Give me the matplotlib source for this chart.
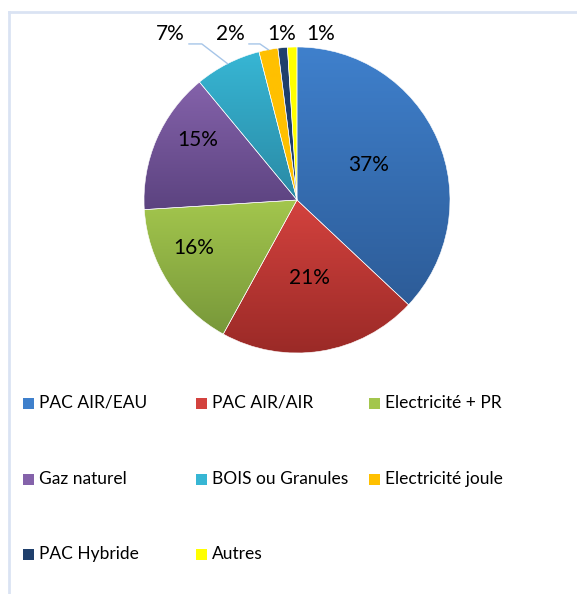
import matplotlib.pyplot as plt
import matplotlib.patches as mpatches
import numpy as np

plt.rcParams['font.family'] = ['Lato', 'DejaVu Sans']

labels = ['PAC AIR/EAU', 'PAC AIR/AIR', 'Electricité + PR', 'Gaz naturel',
          'BOIS ou Granules', 'Electricité joule', 'PAC Hybride', 'Autres']
values = [37, 21, 16, 15, 7, 2, 1, 1]
top_colors = ['#3f80cc', '#d3423e', '#a3c64d', '#8462aa', '#37b6d4', '#ffc000', '#1f3f6c', '#ffff00']
bot_colors = ['#2d5c98', '#9b2a27', '#78983a', '#5c4380', '#2a8aa5', '#ffc000', '#1f3f6c', '#ffff00']

# label positions (data coords, radius 1 pie)
label_pos = [(0.471, 0.229), (0.082, -0.510), (-0.676, -0.314), (-0.647, 0.392),
             (-0.827, 1.085), (-0.435, 1.085), (-0.098, 1.085), (0.157, 1.085)]

W, H = 577, 594
fig = plt.figure(figsize=(W / 100, H / 100), dpi=100)

# light frame
fig.add_artist(plt.Line2D([8.5 / W, 1], [1 - 11.5 / H, 1 - 11.5 / H], color='#dae3f3', lw=2))
fig.add_artist(plt.Line2D([8.5 / W, 8.5 / W], [0, 1 - 11.5 / H], color='#dae3f3', lw=2))

R = 153
cx, cy = 297, 200
lim = 1.25
side = R * 2 * lim
ax = fig.add_axes([(cx - side / 2) / W, (H - cy - side / 2) / H, side / W, side / H])
ax.set_xlim(-lim, lim)
ax.set_ylim(-lim, lim)
ax.set_aspect('equal')
ax.set_axis_off()

wedges, _ = ax.pie(values, startangle=90, counterclock=False, radius=1,
                   colors=top_colors, wedgeprops=dict(edgecolor='white', linewidth=0.4))


def hex2rgb(h):
    h = h.lstrip('#')
    return np.array([int(h[i:i + 2], 16) for i in (0, 2, 4)]) / 255.0


# gradient fill per wedge
for w, c1, c2 in zip(wedges, top_colors, bot_colors):
    ext = w.get_path().get_extents(w.get_patch_transform())
    t = np.linspace(0, 1, 64)[:, None]
    grad = (1 - t) * hex2rgb(c1) + t * hex2rgb(c2)
    img = np.repeat(grad[:, None, :], 2, axis=1)
    im = ax.imshow(img, extent=[ext.x0, ext.x1, ext.y0, ext.y1], origin='upper',
                   aspect='auto', zorder=w.get_zorder() + 0.1, interpolation='bilinear')
    im.set_clip_path(w)
    w.set_facecolor('none')
    w.set_zorder(w.get_zorder() + 0.2)

ax.set_xlim(-lim, lim)
ax.set_ylim(-lim, lim)

total = sum(values)
for i, (w, v) in enumerate(zip(wedges, values)):
    x, y = label_pos[i]
    ax.text(x, y, f'{round(100 * v / total)}%', ha='center', va='center',
            fontsize=15, color='black', zorder=5)
    if i in (4, 5):
        mid = np.deg2rad((w.theta1 + w.theta2) / 2)
        ex, ey = np.cos(mid), np.sin(mid)
        sx = x + 0.121
        kx = x + (0.205 if i == 4 else 0.193)
        ky = 1.02
        ax.plot([sx, kx, ex], [ky, ky, ey], color='#a6c5e8', lw=1, zorder=4,
                clip_on=False)

# legend, row-wise in 3 columns
col_x = [23, 196, 369]
row_y = [403, 479, 554]
for i, (lab, c1, c2) in enumerate(zip(labels, top_colors, bot_colors)):
    r, c = divmod(i, 3)
    x0, y0 = col_x[c], row_y[r]
    fig.add_artist(mpatches.Rectangle((x0 / W, (H - y0 - 5.5) / H), 11 / W, 11 / H,
                                      facecolor=c1, edgecolor='none'))
    fig.text((x0 + 16) / W, (H - y0) / H, lab, ha='left', va='center',
             fontsize=12.5, color='black')

plt.savefig('out.png', dpi=100)
